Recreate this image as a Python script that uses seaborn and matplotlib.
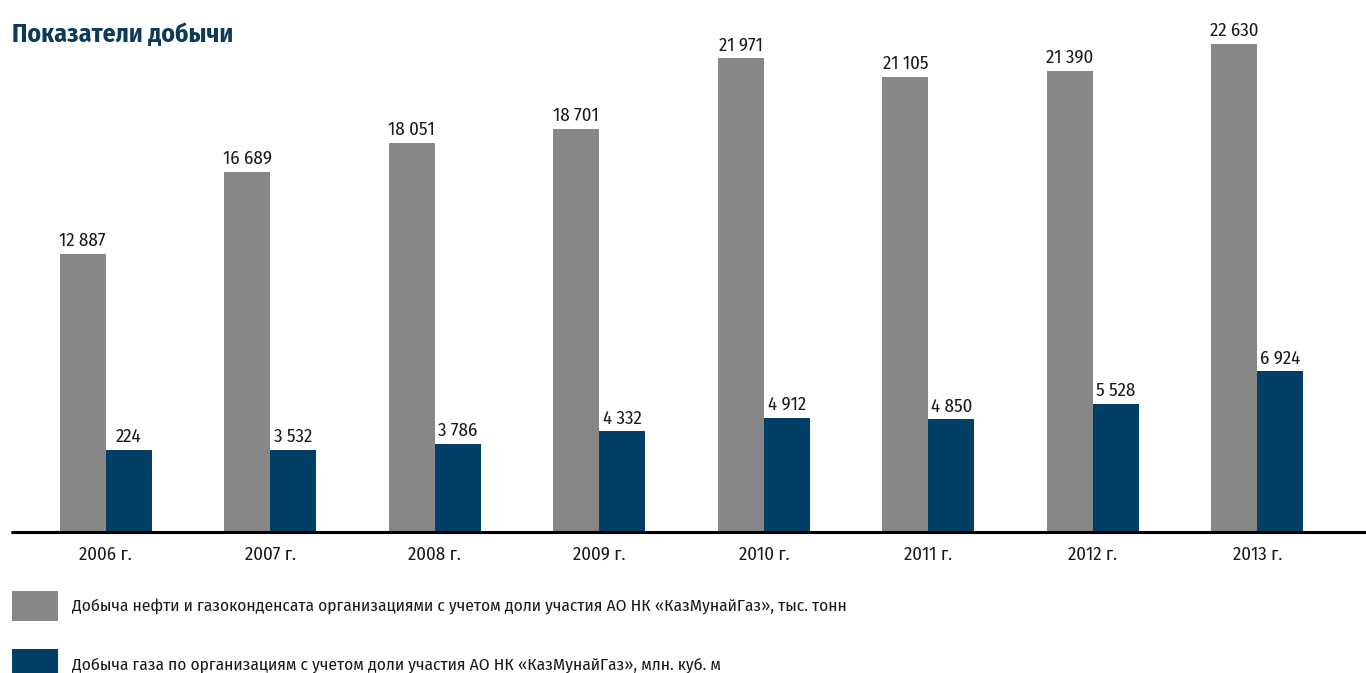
import matplotlib
matplotlib.use('Agg')
import matplotlib.pyplot as plt
from matplotlib.patches import Patch
import seaborn as sns
import pandas as pd

# chart data
years = ['2006 г.', '2007 г.', '2008 г.', '2009 г.', '2010 г.', '2011 г.', '2012 г.', '2013 г.']
oil = [12887, 16689, 18051, 18701, 21971, 21105, 21390, 22630]
# 2006 gas bar is drawn at the same height as 2007 in the source, its label says 224
gas = [3532, 3532, 3786, 4332, 4912, 4850, 5528, 6924]
oil_labels = ['12 887', '16 689', '18 051', '18 701', '21 971', '21 105', '21 390', '22 630']
gas_labels = ['224', '3 532', '3 786', '4 332', '4 912', '4 850', '5 528', '6 924']
series_names = ['Добыча нефти и газоконденсата организациями с учетом доли участия АО НК «КазМунайГаз», тыс. тонн',
                'Добыча газа по организациям с учетом доли участия АО НК «КазМунайГаз», млн. куб. м']

GREY = '#878787'
BLUE = '#023f66'
TITLE = '#0d3a58'
TXT = '#1a1a1a'

sns.set_style('white')
plt.rcParams['font.family'] = ['Fira Sans Condensed', 'Liberation Sans', 'DejaVu Sans']

df = pd.DataFrame({
    'year': years * 2,
    'value': oil + gas,
    'series': [series_names[0]] * len(years) + [series_names[1]] * len(years),
})

W, H = 1366, 673
fig = plt.figure(figsize=(W / 100, H / 100), dpi=100)
ax = fig.add_axes([12 / W, 141 / H, 1354 / W, 532 / H])
ax2 = ax.twinx()  # gas bars use their own (slightly larger) scale in the source

# draw the dodged pair on both axes, keep oil on ax and gas on ax2
for a in (ax, ax2):
    sns.barplot(data=df, x='year', y='value', hue='series', hue_order=series_names,
                palette=[GREY, BLUE], width=0.56, gap=0, saturation=1, linewidth=0,
                legend=False, ax=a)
for p in ax.containers[1]:
    p.remove()
for p in ax2.containers[0]:
    p.remove()

ax.bar_label(ax.containers[0], labels=oil_labels, padding=3, fontsize=13.5, color=TXT)
ax2.bar_label(ax2.containers[1], labels=gas_labels, padding=3, fontsize=13.5, color=TXT)

ax.set_xlim(-0.57, 7.66)
ax.set_ylim(0, 24670)
ax2.set_ylim(0, 22930)
for a in (ax, ax2):
    a.set_xlabel('')
    a.set_ylabel('')
    a.set_yticks([])
    for s in ['top', 'right', 'left']:
        a.spines[s].set_visible(False)
ax2.spines['bottom'].set_visible(False)
ax.tick_params(axis='x', length=0, pad=10, labelsize=13.5, labelcolor=TXT)
ax2.plot([0, 1], [0, 0], transform=ax2.transAxes, color='black', lw=2.2,
         clip_on=False, zorder=5)

fig.text(12 / W, 1 - 35 / H, 'Показатели добычи', fontsize=18.5, fontweight='bold',
         color=TITLE, va='center', ha='left')

handles = [Patch(facecolor=GREY, edgecolor='none'), Patch(facecolor=BLUE, edgecolor='none')]
fig.legend(handles, series_names, loc='upper left',
           bbox_to_anchor=(12 / W, 1 - 591 / H), frameon=False, fontsize=12.5,
           handlelength=2.65, handleheight=2.3, handletextpad=0.8,
           labelspacing=1.6, borderpad=0, borderaxespad=0, labelcolor=TXT)

fig.savefig('out.png', dpi=100)
